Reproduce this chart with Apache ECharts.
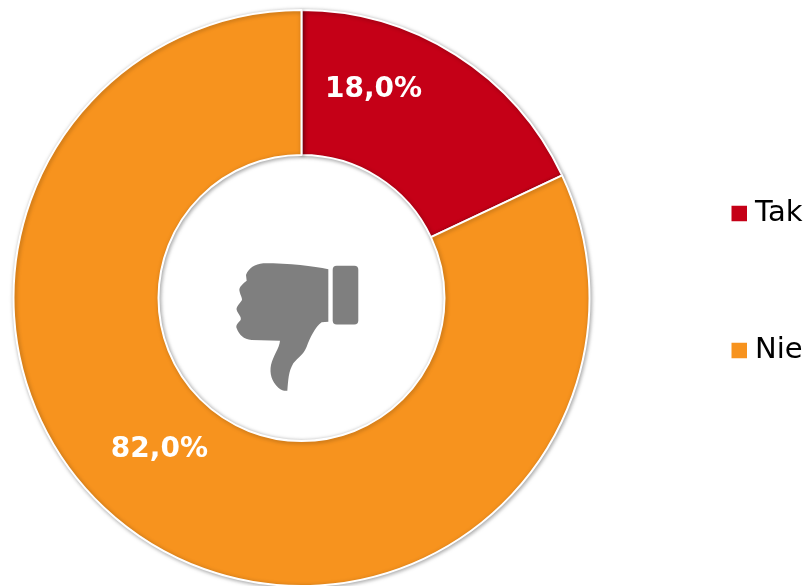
<!DOCTYPE html>
<html>
<head>
<meta charset="utf-8">
<style>
    html, body { margin: 0; padding: 0; background: #fff; }
    #main { width: 810px; height: 586px; }
</style>
<script src="https://cdn.jsdelivr.net/npm/echarts@6/dist/echarts.min.js"></script>
</head>
<body>
<div id="main"></div>
<script>
var categories = ['Tak', 'Nie'];
var values = [18.0, 82.0];
var sliceColors = ['#c50017', '#f7931e'];
// labels were moved by hand in the original, so they sit off the ring centre
var labelShift = [[-45, -24], [-25, -33]];

var myChart = echarts.init(document.getElementById('main'));

// thumb outline
var handPath = 'M355 88C310 78 240 70 160 70C135 72 115 85 108 105L110 122C100 130 88 140 88 150' +
    'C90 165 97 172 96 180C90 190 78 200 80 210C85 225 95 228 92 240C85 248 76 255 80 265' +
    'C88 285 100 298 125 300L210 302C208 325 190 345 183 375C178 400 185 425 205 443' +
    'C215 452 225 453 232 452C235 420 235 395 250 370C265 350 280 345 290 320' +
    'C300 295 315 260 335 247L355 245Z';

// the graphic component has no plain 'path' type, so register one
echarts.graphic.registerShape('hand', echarts.graphic.extendPath(handPath, {}));

var option = {
    animation: false,
    textStyle: { fontFamily: 'DejaVu Sans' },
    legend: {
        orient: 'vertical',
        left: 729.5,
        top: 199,
        padding: 0,
        icon: 'rect',
        // legend draws the icon at 80% of this
        itemWidth: 17.5,
        itemHeight: 17.5,
        itemGap: 108,
        selectedMode: false,
        textStyle: { fontSize: 29, color: '#000', padding: [0, 0, 0, 2] },
        data: categories
    },
    series: [
        {
            type: 'pie',
            center: [301.5, 298],
            radius: [143, 288],
            startAngle: 90,
            clockwise: true,
            silent: true,
            itemStyle: {
                borderColor: '#fff',
                borderWidth: 2,
                shadowColor: 'rgba(0,0,0,0.35)',
                shadowBlur: 4,
                shadowOffsetX: 1,
                shadowOffsetY: 1
            },
            label: {
                show: true,
                position: 'inside',
                color: '#fff',
                fontWeight: 'bold',
                fontSize: 28,
                formatter: function (p) {
                    return p.value.toFixed(1).replace('.', ',') + '%';
                }
            },
            labelLine: { show: false },
            labelLayout: function (params) {
                var s = labelShift[params.dataIndex];
                return { dx: s[0], dy: s[1] };
            },
            data: categories.map(function (name, i) {
                return { name: name, value: values[i], itemStyle: { color: sliceColors[i] } };
            })
        }
    ],
    graphic: [
        {
            type: 'hand',
            x: 210, y: 240, scaleX: 1 / 3, scaleY: 1 / 3,
            style: { fill: '#7f7f7f' }
        },
        {
            type: 'rect',
            x: 332.7, y: 265.7,
            shape: { width: 25.6, height: 58.7, r: 4 },
            style: { fill: '#7f7f7f' }
        }
    ]
};

option && myChart.setOption(option);
</script>
</body>
</html>
